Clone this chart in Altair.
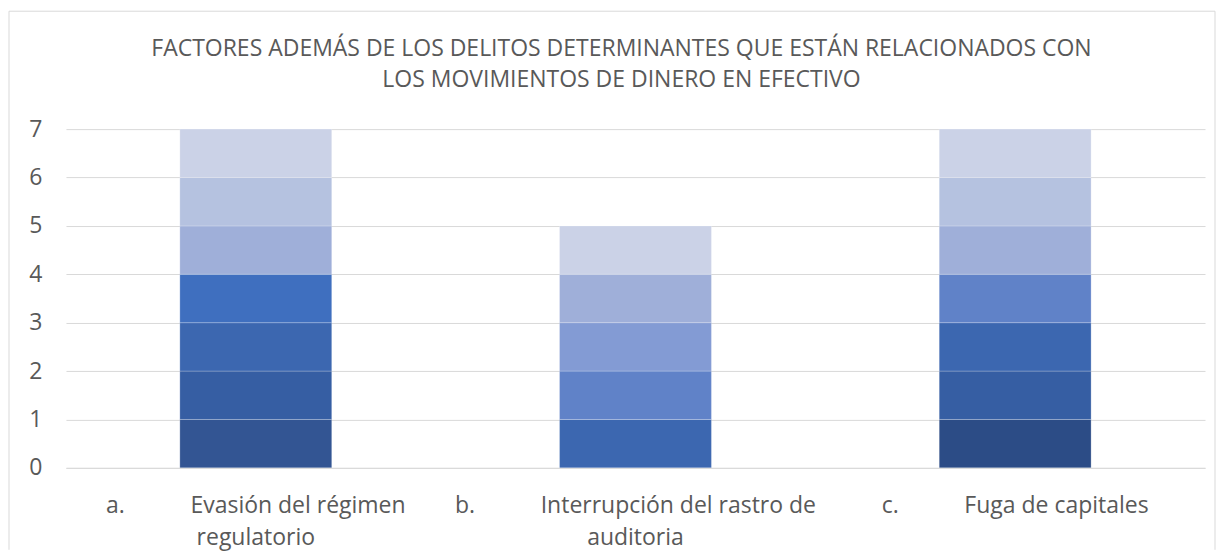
import altair as alt
import pandas as pd

# ---- data ----
letters = ["a.", "b.", "c."]
names_line1 = ["Evasión del régimen", "Interrupción del rastro de", "Fuga de capitales"]
names_line2 = ["regulatorio", "auditoria", ""]

# series present in each bar (each segment has value 1), bottom to top
series_names = ["S1", "S2", "S3", "S4", "S5", "S6", "S7", "S8", "S9", "S10"]
series_colors = ["#2c4c86", "#335593", "#365ea3", "#3c67b0", "#3f6fbf",
                 "#6082c8", "#839bd4", "#9fafd9", "#b5c2e0", "#cbd2e7"]
bar_series = [
    ["S2", "S3", "S4", "S5", "S8", "S9", "S10"],
    ["S4", "S6", "S7", "S8", "S10"],
    ["S1", "S3", "S4", "S6", "S8", "S9", "S10"],
]
segment_value = 1

title_lines = ["FACTORES ADEMÁS DE LOS DELITOS DETERMINANTES QUE ESTÁN RELACIONADOS CON",
               "LOS MOVIMIENTOS DE DINERO EN EFECTIVO"]

FONT = "Open Sans"
GREY = "#595959"
FS = 23
BORDER = "#d9d9d9"

cats = [f"{l}|{a}|{b}" for l, a, b in zip(letters, names_line1, names_line2)]
rows = []
for cat, sers in zip(cats, bar_series):
    for s in sers:
        rows.append({"cat": cat, "series": s, "value": segment_value,
                     "ord": series_names.index(s)})
df = pd.DataFrame(rows)

sep = "\u00a0" * 11
label_expr = (f"split(datum.label,'|')[2] == '' ? "
              f"split(datum.label,'|')[0] + '{sep}' + split(datum.label,'|')[1] : "
              f"[split(datum.label,'|')[0] + '{sep}' + split(datum.label,'|')[1], split(datum.label,'|')[2]]")

bars = alt.Chart(df).mark_bar(
    width=alt.RelativeBandSize(0.4), stroke="white", strokeWidth=0.6, strokeOpacity=0.4
).encode(
    x=alt.X("cat:N", sort=cats, title=None,
            scale=alt.Scale(paddingInner=0, paddingOuter=0),
            axis=alt.Axis(labelExpr=label_expr, labelAngle=0, labelFont=FONT,
                          labelFontSize=FS, labelColor=GREY, labelLineHeight=32,
                          labelPadding=27, ticks=False, domain=True,
                          domainColor="#d9d9d9", domainWidth=1, labelLimit=0)),
    y=alt.Y("value:Q", stack="zero", title=None,
            scale=alt.Scale(domain=[0, 7], nice=False),
            axis=alt.Axis(values=list(range(0, 8)), labelFont=FONT, labelFontSize=FS,
                          labelColor=GREY, labelPadding=24, ticks=False, domain=False,
                          gridColor="#d9d9d9", gridWidth=1)),
    color=alt.Color("series:N", scale=alt.Scale(domain=series_names, range=series_colors),
                    legend=None),
    order=alt.Order("ord:Q", sort="ascending"),
)

one = alt.Data(values=[{"k": 1}])
border_top = alt.Chart(one).mark_rule(stroke=BORDER, strokeWidth=1).encode(
    x=alt.value(-57), x2=alt.value(1150), y=alt.value(-118))
border_left = alt.Chart(one).mark_rule(stroke=BORDER, strokeWidth=1).encode(
    x=alt.value(-57), y=alt.value(-118), y2=alt.value(421))
border_right = alt.Chart(one).mark_rule(stroke=BORDER, strokeWidth=1).encode(
    x=alt.value(1150), y=alt.value(-118), y2=alt.value(421))

chart = alt.layer(bars, border_top, border_left, border_right).properties(
    width=1140, height=339,
    padding={"left": 0, "top": 2, "right": 0, "bottom": 0},
    title=alt.Title(title_lines, font=FONT, fontSize=FS, fontWeight="normal",
                    color=GREY, anchor="middle", dx=-14, offset=-81, lineHeight=31),
).configure_view(stroke=None)

chart.save("out.html", embed_options={"renderer": "svg", "actions": False})
